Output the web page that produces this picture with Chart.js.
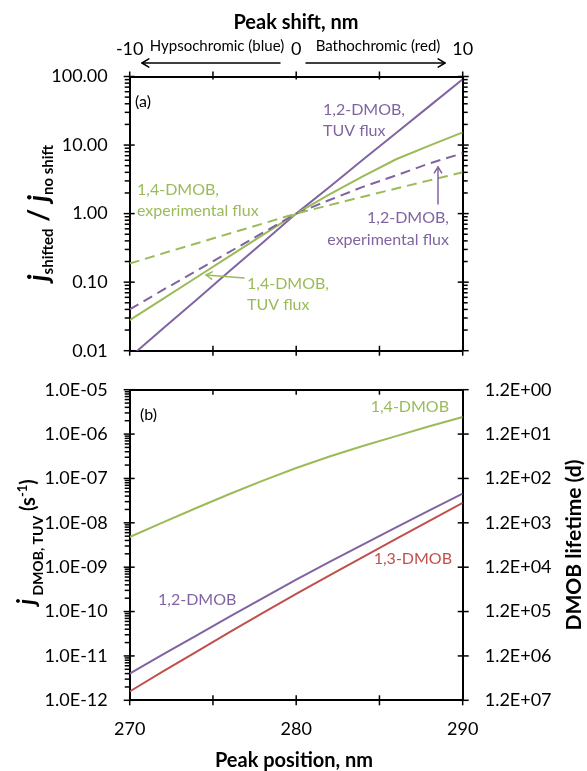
<!DOCTYPE html>
<html>
<head>
<meta charset="utf-8">
<script src="https://cdn.jsdelivr.net/npm/chart.js@4.4.1/dist/chart.umd.min.js"></script>
<style>
  html, body { margin: 0; padding: 0; background: #fff; }
  #wrap { position: relative; width: 587px; height: 771px; }
  canvas { position: absolute; left: 0; top: 0; }
</style>
</head>
<body>
<div id="wrap">
  <canvas id="chartA" width="587" height="771"></canvas>
  <canvas id="chartB" width="587" height="771"></canvas>
</div>
<script>
// ===== data =====
const peakPos = [270, 272, 274, 276, 278, 280, 282, 284, 286, 288, 290];
const shiftTicks = [-10, 0, 10];
const shiftMarks = [-10, -5, 0, 5, 10];
const posTicks = [270, 280, 290];
const posMarks = [270, 275, 280, 285, 290];
const ratioTicks = [0.01, 0.1, 1, 10, 100];
const jTicks = [1e-12, 1e-11, 1e-10, 1e-9, 1e-8, 1e-7, 1e-6, 1e-5];

// panel (a): j shifted / j no shift
const ratio12TUV = [0.0080, 0.021, 0.055, 0.145, 0.38, 1, 2.45, 6.1, 15.0, 37, 91];
const ratio14TUV = [0.028, 0.057, 0.117, 0.24, 0.49, 1, 1.9, 3.5, 6.2, 9.8, 15.3];
const ratio12Exp = [0.040, 0.077, 0.146, 0.277, 0.526, 1, 1.58, 2.45, 3.6, 5.4, 7.6];
const ratio14Exp = [0.187, 0.263, 0.367, 0.513, 0.716, 1, 1.33, 1.76, 2.32, 3.05, 4.0];

// panel (b): j DMOB, TUV (s-1)
const j14 = [4.79e-9, 1.02e-8, 2.16e-8, 4.47e-8, 8.9e-8, 1.72e-7, 3.13e-7, 5.37e-7, 9.0e-7, 1.50e-6, 2.43e-6];
const j12 = [4.0e-12, 1.08e-11, 2.88e-11, 7.66e-11, 2.01e-10, 5.25e-10, 1.31e-9, 3.22e-9, 7.87e-9, 1.91e-8, 4.57e-8];
const j13 = [1.58e-12, 4.47e-12, 1.24e-11, 3.43e-11, 9.3e-11, 2.51e-10, 6.55e-10, 1.69e-9, 4.35e-9, 1.11e-8, 2.83e-8];

// lifetime (d) = 1 / (j * seconds per day)
const SEC_PER_DAY = 86400;
const lifetimeTicks = jTicks.map(j => 1 / (j * SEC_PER_DAY));

// ===== style =====
const PURPLE = "#8064A2";
const GREEN = "#9BBB59";
const RED = "#C0504D";
const FONT = "Lato, 'Open Sans', sans-serif";

const LEFT = 129.7;
const RIGHT_W = 587 - 462.7;

function pts(ys) {
    return peakPos.map((p, i) => ({ x: p, y: ys[i] }));
}

function setTicks(values) {
    return function (scale) { scale.ticks = values.map(v => ({ value: v })); };
}

function sci(v) {
    let s = v.toExponential(1).split("e");
    let e = parseInt(s[1], 10);
    let es = (e < 0 ? "-" : "+") + String(Math.abs(e)).padStart(2, "0");
    return s[0] + "E" + es;
}

function logMarks(decades) {
    let out = [];
    decades.forEach((d, i) => {
        out.push({ v: d, major: true });
        if (i < decades.length - 1) {
            for (let m = 2; m <= 9; m++) out.push({ v: d * m, major: false });
        }
    });
    return out;
}

function line(ctx, x1, y1, x2, y2) {
    ctx.beginPath(); ctx.moveTo(x1, y1); ctx.lineTo(x2, y2); ctx.stroke();
}

function arrow(ctx, x1, y1, x2, y2, color, w, head) {
    ctx.save();
    ctx.strokeStyle = color; ctx.lineWidth = w; ctx.lineCap = "round"; ctx.lineJoin = "round";
    line(ctx, x1, y1, x2, y2);
    let a = Math.atan2(y2 - y1, x2 - x1);
    ctx.beginPath();
    ctx.moveTo(x2 - head * Math.cos(a - 0.55), y2 - head * Math.sin(a - 0.55));
    ctx.lineTo(x2, y2);
    ctx.lineTo(x2 - head * Math.cos(a + 0.55), y2 - head * Math.sin(a + 0.55));
    ctx.stroke();
    ctx.restore();
}

function label(ctx, str, x, y, size, color, align, bold) {
    ctx.font = (bold ? "bold " : "") + size + "px " + FONT;
    ctx.fillStyle = color;
    ctx.textAlign = align || "left";
    ctx.textBaseline = "middle";
    ctx.fillText(str, x, y);
}

// rotated title made of runs (for sub/superscripts)
function vTitle(ctx, runs, cx, cy) {
    ctx.save();
    ctx.translate(cx, cy);
    ctx.rotate(-Math.PI / 2);
    ctx.textAlign = "left"; ctx.textBaseline = "alphabetic"; ctx.fillStyle = "#000";
    let total = 0;
    runs.forEach(r => { ctx.font = r.f + " " + FONT; r.w = ctx.measureText(r.t).width; total += r.w; });
    let x = -total / 2;
    runs.forEach(r => { ctx.font = r.f + " " + FONT; ctx.fillText(r.t, x, r.dy || 0); x += r.w; });
    ctx.restore();
}

const tickFont = { family: FONT, size: 18 };
const border = { display: true, color: "#000", width: 2 };
const noGrid = { display: false, drawTicks: false };

// ===== panel (a) =====
const panelA = {
    id: "panelA",
    afterDraw(chart) {
        const ctx = chart.ctx, a = chart.chartArea;
        const y = chart.scales.y, x = chart.scales.x, xt = chart.scales.xTop;
        ctx.save();
        ctx.strokeStyle = "#000"; ctx.lineWidth = 1.5;
        logMarks(ratioTicks).forEach(m => {
            let py = y.getPixelForValue(m.v);
            if (m.major) {
                line(ctx, a.left - 6, py, a.left + 5, py);
                line(ctx, a.right - 5, py, a.right + 6, py);
            } else {
                line(ctx, a.left - 5, py, a.left, py);
                line(ctx, a.right, py, a.right + 5, py);
            }
        });
        posMarks.forEach(v => { let px = x.getPixelForValue(v); line(ctx, px, a.bottom - 5, px, a.bottom + 5); });
        shiftMarks.forEach(v => { let px = xt.getPixelForValue(v); line(ctx, px, a.top - 5, px, a.top + 3); });

        // header
        label(ctx, "Peak shift, nm", 296, 23, 20, "#000", "center", true);
        label(ctx, "Hypsochromic (blue)", 217, 46, 15, "#000", "center");
        label(ctx, "Bathochromic (red)", 378, 46, 15, "#000", "center");
        arrow(ctx, 280, 63, 142, 63, "#000", 1.5, 8);
        arrow(ctx, 306, 63, 445, 63, "#000", 1.5, 8);

        // annotations
        label(ctx, "(a)", 135, 102, 16, "#000", "left");
        label(ctx, "1,2-DMOB,", 323, 110, 16, PURPLE, "left");
        label(ctx, "TUV flux", 323, 131, 16, PURPLE, "left");
        label(ctx, "1,4-DMOB,", 137, 190, 16, GREEN, "left");
        label(ctx, "experimental flux", 137, 211, 16, GREEN, "left");
        label(ctx, "1,4-DMOB,", 247, 284, 16, GREEN, "left");
        label(ctx, "TUV flux", 247, 305, 16, GREEN, "left");
        label(ctx, "1,2-DMOB,", 449, 218, 16, PURPLE, "right");
        label(ctx, "experimental flux", 449, 240, 16, PURPLE, "right");
        arrow(ctx, 244, 278, 206, 275, GREEN, 1.5, 7);
        arrow(ctx, 438, 204, 438, 167, PURPLE, 1.5, 7);

        // y title
        vTitle(ctx, [
            { t: "j", f: "italic bold 28px" },
            { t: "shifted", f: "bold 15px", dy: 5 },
            { t: " / ", f: "bold 28px" },
            { t: "j", f: "italic bold 28px" },
            { t: "no shift", f: "bold 15px", dy: 5 }
        ], 48, 213);
        ctx.restore();
    }
};

new Chart(document.getElementById("chartA"), {
    type: "line",
    data: {
        datasets: [
            { label: "1,4-DMOB, experimental flux", data: pts(ratio14Exp), borderColor: GREEN, borderWidth: 2, borderDash: [10, 6] },
            { label: "1,2-DMOB, experimental flux", data: pts(ratio12Exp), borderColor: PURPLE, borderWidth: 2, borderDash: [10, 6] },
            { label: "1,4-DMOB, TUV flux", data: pts(ratio14TUV), borderColor: GREEN, borderWidth: 2 },
            { label: "1,2-DMOB, TUV flux", data: pts(ratio12TUV), borderColor: PURPLE, borderWidth: 2 }
        ]
    },
    options: {
        responsive: false,
        animation: false,
        elements: { point: { radius: 0 }, line: { tension: 0 } },
        layout: { padding: 0 },
        plugins: { legend: { display: false }, tooltip: { enabled: false } },
        scales: {
            x: {
                type: "linear", position: "bottom", min: 270, max: 290,
                grid: noGrid, border: border, ticks: { display: false },
                afterFit: s => { s.height = 771 - 350.7; }
            },
            xTop: {
                type: "linear", position: "top", min: -10, max: 10,
                grid: noGrid, border: border,
                afterBuildTicks: setTicks(shiftTicks),
                ticks: { font: tickFont, color: "#000", padding: 17, maxRotation: 0, autoSkip: false },
                afterFit: s => { s.height = 76.5; }
            },
            y: {
                type: "logarithmic", position: "left", min: 0.01, max: 100,
                grid: noGrid, border: border,
                afterBuildTicks: setTicks(ratioTicks),
                ticks: { font: tickFont, color: "#000", padding: 22, autoSkip: false, callback: v => Number(v).toFixed(2) },
                afterFit: s => { s.width = LEFT; }
            },
            yR: {
                type: "logarithmic", position: "right", min: 0.01, max: 100,
                grid: noGrid, border: border, ticks: { display: false },
                afterFit: s => { s.width = RIGHT_W; }
            }
        }
    },
    plugins: [panelA]
});

// ===== panel (b) =====
const panelB = {
    id: "panelB",
    afterDraw(chart) {
        const ctx = chart.ctx, a = chart.chartArea;
        const y = chart.scales.y, y2 = chart.scales.y2, x = chart.scales.x;
        ctx.save();
        ctx.strokeStyle = "#000"; ctx.lineWidth = 1.5;
        logMarks(jTicks).forEach(m => {
            let py = y.getPixelForValue(m.v);
            if (m.major) line(ctx, a.left - 6, py, a.left + 5, py);
            else line(ctx, a.left - 5, py, a.left, py);
        });
        lifetimeTicks.forEach(v => { let py = y2.getPixelForValue(v); line(ctx, a.right - 5, py, a.right + 6, py); });
        posMarks.forEach(v => {
            let px = x.getPixelForValue(v);
            line(ctx, px, a.bottom - 5, px, a.bottom + 5);
            line(ctx, px, a.top, px, a.top + 5);
        });

        label(ctx, "(b)", 140, 415, 16, "#000", "left");
        label(ctx, "1,4-DMOB", 449, 407, 16, GREEN, "right");
        label(ctx, "1,3-DMOB", 452, 559, 16, RED, "right");
        label(ctx, "1,2-DMOB", 158, 600, 16, PURPLE, "left");

        label(ctx, "Peak position, nm", 294, 761, 20, "#000", "center", true);

        vTitle(ctx, [
            { t: "j", f: "italic bold 24px" },
            { t: " DMOB, TUV", f: "bold 14px", dy: 8 },
            { t: " (s", f: "bold 20px" },
            { t: "-1", f: "bold 13px", dy: -8 },
            { t: ")", f: "bold 20px" }
        ], 35, 542);
        vTitle(ctx, [{ t: "DMOB lifetime (d)", f: "bold 21px" }], 581, 545);
        ctx.restore();
    }
};

new Chart(document.getElementById("chartB"), {
    type: "line",
    data: {
        datasets: [
            { label: "1,4-DMOB", data: pts(j14), borderColor: GREEN, borderWidth: 2 },
            { label: "1,2-DMOB", data: pts(j12), borderColor: PURPLE, borderWidth: 2 },
            { label: "1,3-DMOB", data: pts(j13), borderColor: RED, borderWidth: 2 }
        ]
    },
    options: {
        responsive: false,
        animation: false,
        elements: { point: { radius: 0 }, line: { tension: 0 } },
        layout: { padding: 0 },
        plugins: { legend: { display: false }, tooltip: { enabled: false } },
        scales: {
            x: {
                type: "linear", position: "bottom", min: 270, max: 290,
                grid: noGrid, border: border,
                afterBuildTicks: setTicks(posTicks),
                ticks: { font: tickFont, color: "#000", padding: 18, maxRotation: 0, autoSkip: false },
                afterFit: s => { s.height = 771 - 700.3; }
            },
            xTop: {
                type: "linear", position: "top", min: 270, max: 290,
                grid: noGrid, border: border, ticks: { display: false },
                afterFit: s => { s.height = 389.7; }
            },
            y: {
                type: "logarithmic", position: "left", min: 1e-12, max: 1e-5,
                grid: noGrid, border: border,
                afterBuildTicks: setTicks(jTicks),
                ticks: { font: tickFont, color: "#000", padding: 22, autoSkip: false, callback: v => sci(Number(v)) },
                afterFit: s => { s.width = LEFT; }
            },
            y2: {
                type: "logarithmic", position: "right", reverse: true,
                min: lifetimeTicks[lifetimeTicks.length - 1], max: lifetimeTicks[0],
                grid: noGrid, border: border,
                afterBuildTicks: setTicks(lifetimeTicks),
                ticks: { font: tickFont, color: "#000", padding: 22, autoSkip: false, callback: v => sci(Number(v)) },
                afterFit: s => { s.width = RIGHT_W; }
            }
        }
    },
    plugins: [panelB]
});
</script>
</body>
</html>
